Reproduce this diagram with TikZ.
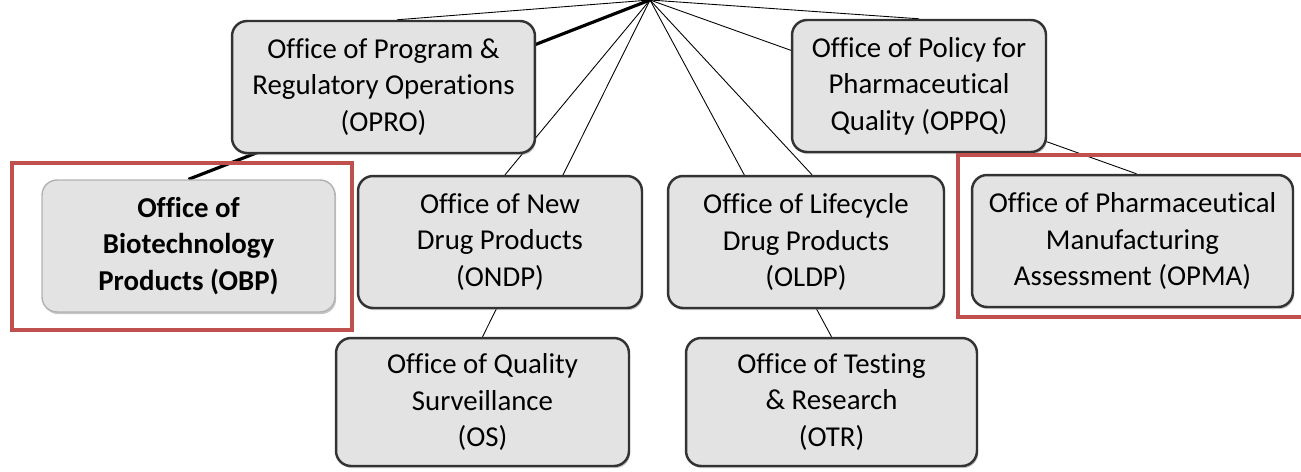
\documentclass[tikz,border=0pt]{standalone}
\usepackage{fontspec}
\setmainfont[Ligatures=NoCommon]{Carlito}
\usetikzlibrary{calc,shadows,backgrounds}
\definecolor{hired}{HTML}{C0504D}

\begin{document}
\begin{tikzpicture}[x=0.02cm, y=-0.02cm,
    office/.style={draw=black!80, line width=1.4pt, fill=black!11,
        rounded corners=0.3cm, align=center, minimum height=2.64cm,
        font=\fontsize{16.4}{20.8}\selectfont,
        drop shadow={shadow xshift=0.7pt, shadow yshift=-1.2pt, opacity=0.45}},
    lead/.style={office, draw=black!30, line width=0.8pt,
        font=\fontsize{16.4}{20.8}\selectfont\bfseries},
    link/.style={line width=0.5pt},
    hilite/.style={draw=hired, line width=2.3pt}]
    \useasboundingbox (0,0) rectangle (1301,471);
    \coordinate (apex) at (650,0);

    \node[office, minimum width=6.06cm] (opro) at (383.5,87)
        {Office of Program \&\\Regulatory Operations\\(OPRO)};
    \node[office, minimum width=5.08cm] (oppq) at (919,86)
        {Office of Policy for\\Pharmaceutical\\Quality (OPPQ)};
    \node[lead, minimum width=5.86cm] (obp) at (188.5,246)
        {Office of\\Biotechnology\\Products (OBP)};
    \node[office, minimum width=5.68cm] (ondp) at (500,242)
        {Office of New\\Drug Products\\(ONDP)};
    \node[office, minimum width=5.52cm] (oldp) at (806,242)
        {Office of Lifecycle\\Drug Products\\(OLDP)};
    \node[office, minimum width=6.42cm] (opma) at (1132.5,241)
        {Office of Pharmaceutical\\Manufacturing\\Assessment (OPMA)};
    \node[office, minimum width=5.86cm, minimum height=2.56cm] (os) at (482.5,402)
        {Office of Quality\\Surveillance\\(OS)};
    \node[office, minimum width=5.82cm, minimum height=2.56cm] (otr) at (831.5,402)
        {Office of Testing\\\& Research\\(OTR)};

    % links run behind the boxes
    \begin{scope}[on background layer]
        \draw[link] (apex) -- ($(opro.north)+(13.5,0)$);
        \draw[line width=1.8pt] (apex) -- (obp.north);
        \draw[link] (apex) -- (oppq.north);
        \draw[link] (apex) -- ($(opma.north)+(4,0)$);
        \draw[link] (apex) -- ($(ondp.north)+(5,0)$);
        \draw[link] (apex) -- (os.north);
        \draw[link] (apex) -- (otr.north);
        \draw[link] (apex) -- ($(oldp.north)+(6,0)$);
    \end{scope}

    \draw[hilite] (12,163) rectangle (352,330);
    \draw[hilite] (958,155) rectangle (1320,317);
\end{tikzpicture}
\end{document}
